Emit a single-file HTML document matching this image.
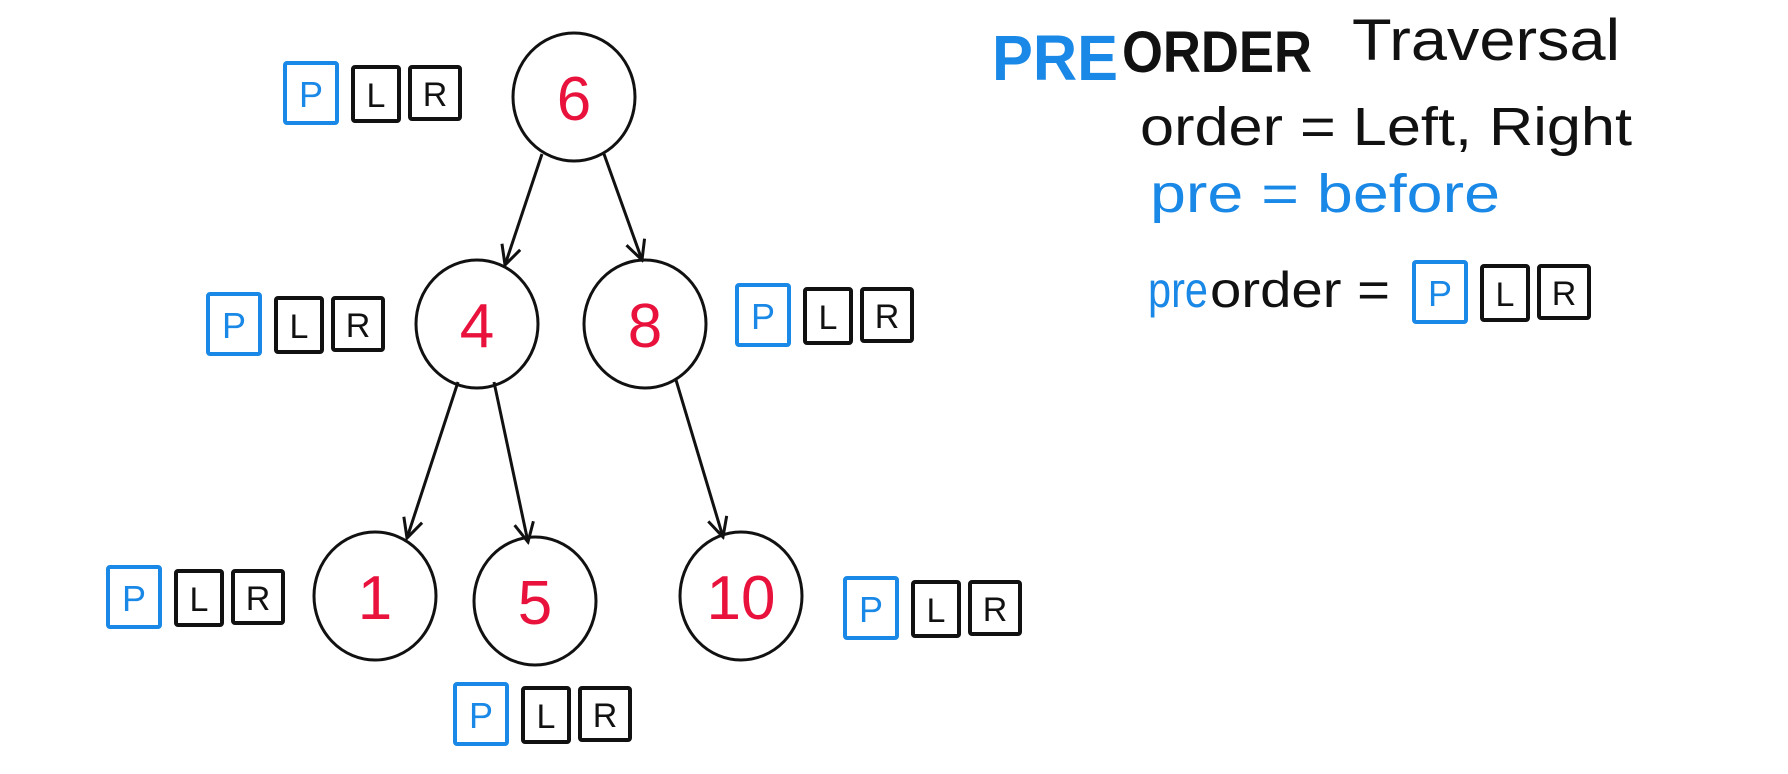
<!DOCTYPE html>
<html><head><meta charset="utf-8"><style>
html,body{margin:0;padding:0;background:#fff;width:1788px;height:774px;overflow:hidden}
svg{display:block}
text{font-family:"Liberation Sans",sans-serif}
</style></head><body>
<svg width="1788" height="774" viewBox="0 0 1788 774" xmlns="http://www.w3.org/2000/svg">
<defs>
<marker id="ah" viewBox="0 0 20 20" refX="18" refY="10" markerWidth="24" markerHeight="24" markerUnits="userSpaceOnUse" orient="auto">
<path d="M2,2 L18,10 L2,18" fill="none" stroke="#111" stroke-width="2.5"/>
</marker>
<g id="plr">
<rect x="0" y="0" width="52" height="60" fill="none" stroke="#1a88e6" stroke-width="4" rx="2"/>
<text x="26" y="44" font-size="36" fill="#1a88e6" text-anchor="middle">P</text>
<rect x="68" y="4" width="46" height="54" fill="none" stroke="#111" stroke-width="4" rx="2"/>
<text x="91" y="44" font-size="34" fill="#111" text-anchor="middle">L</text>
<rect x="125" y="4" width="50" height="52" fill="none" stroke="#111" stroke-width="4" rx="2"/>
<text x="150" y="43" font-size="34" fill="#111" text-anchor="middle">R</text>
</g>
</defs>
<g fill="none" stroke="#111" stroke-width="3">
<line x1="542" y1="154" x2="505" y2="265" marker-end="url(#ah)"/>
<line x1="604" y1="154" x2="642" y2="260" marker-end="url(#ah)"/>
<line x1="458" y1="382" x2="407" y2="538" marker-end="url(#ah)"/>
<line x1="494" y1="382" x2="528" y2="542" marker-end="url(#ah)"/>
<line x1="676" y1="380" x2="723" y2="537" marker-end="url(#ah)"/>
<ellipse cx="574" cy="97" rx="61" ry="64"/>
<ellipse cx="477" cy="324" rx="61" ry="64"/>
<ellipse cx="645" cy="324" rx="61" ry="64"/>
<ellipse cx="375" cy="596" rx="61" ry="64"/>
<ellipse cx="535" cy="601" rx="61" ry="64"/>
<ellipse cx="741" cy="596" rx="61" ry="64"/>
</g>
<g fill="#e8123c" font-size="62" text-anchor="middle">
<text x="574" y="120">6</text>
<text x="477" y="347">4</text>
<text x="645" y="347">8</text>
<text x="375" y="619">1</text>
<text x="535" y="624">5</text>
<text x="741" y="619">10</text>
</g>
<use href="#plr" x="285" y="63"/>
<use href="#plr" x="208" y="294"/>
<use href="#plr" x="737" y="285"/>
<use href="#plr" x="108" y="567"/>
<use href="#plr" x="845" y="578"/>
<use href="#plr" x="455" y="684"/>
<use href="#plr" x="1414" y="262"/>
<text x="992" y="80" font-size="64" font-weight="bold" fill="#1a88e6" textLength="126" lengthAdjust="spacingAndGlyphs">PRE</text>
<text x="1122" y="72" font-size="58" font-weight="bold" fill="#111" textLength="190" lengthAdjust="spacingAndGlyphs">ORDER</text>
<text x="1352" y="60" font-size="58" fill="#111" textLength="268" lengthAdjust="spacingAndGlyphs">Traversal</text>
<text x="1140" y="145" font-size="54" fill="#111" textLength="492" lengthAdjust="spacingAndGlyphs">order = Left, Right</text>
<text x="1150" y="212" font-size="54" fill="#1a88e6" textLength="350" lengthAdjust="spacingAndGlyphs">pre = before</text>
<text x="1148" y="307" font-size="50" fill="#1a88e6" textLength="60" lengthAdjust="spacingAndGlyphs">pre</text>
<text x="1210" y="307" font-size="50" fill="#111" textLength="180" lengthAdjust="spacingAndGlyphs">order =</text>
</svg>
</body></html>
